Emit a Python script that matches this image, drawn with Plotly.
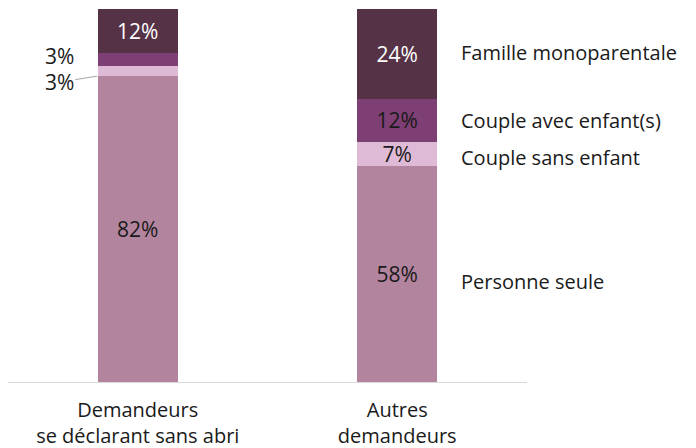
import plotly.graph_objects as go

categories = ["Demandeurs<br>se déclarant sans abri", "Autres<br>demandeurs"]
series_names = ["Personne seule", "Couple sans enfant", "Couple avec enfant(s)", "Famille monoparentale"]
values = {
    "Personne seule": [82.0, 58.0],
    "Couple sans enfant": [2.7, 6.4],
    "Couple avec enfant(s)": [3.4, 11.6],
    "Famille monoparentale": [11.9, 24.0],
}
labels = {
    "Personne seule": ["82%", "58%"],
    "Couple sans enfant": ["3%", "7%"],
    "Couple avec enfant(s)": ["3%", "12%"],
    "Famille monoparentale": ["12%", "24%"],
}
colors = {
    "Personne seule": "#b3849e",
    "Couple sans enfant": "#dfbad6",
    "Couple avec enfant(s)": "#7e3f74",
    "Famille monoparentale": "#563246",
}
text_colors = {
    "Personne seule": "#1a1a1a",
    "Couple sans enfant": "#1a1a1a",
    "Couple avec enfant(s)": "#1a1a1a",
    "Famille monoparentale": "#ffffff",
}

FONT = "Open Sans"
FS_PCT = 21
FS_SER = 20
FS_TICK = 20

fig = go.Figure()
for name in series_names:
    txt = list(labels[name])
    if name in ("Couple sans enfant", "Couple avec enfant(s)"):
        txt[0] = ""
    fig.add_trace(go.Bar(
        x=categories, y=values[name], name=name,
        marker=dict(color=colors[name], line=dict(width=0)),
        text=txt, textposition="inside", insidetextanchor="middle",
        textfont=dict(family=FONT, size=FS_PCT, color=text_colors[name]),
        width=0.31, hoverinfo="skip",
    ))

annotations = []
cum = 0.0
offsets = {"Personne seule": -2.0, "Couple sans enfant": -1.0,
           "Couple avec enfant(s)": 0.0, "Famille monoparentale": 0.3}
for name in series_names:
    v = values[name][1]
    annotations.append(dict(
        x=categories[1], y=cum + v / 2 + offsets[name], xref="x", yref="y",
        text=name, showarrow=False, xanchor="left", xshift=62,
        font=dict(family=FONT, size=FS_SER, color="#1a1a1a"),
    ))
    cum += v

base = values["Personne seule"][0]
v_sans = values["Couple sans enfant"][0]
v_avec = values["Couple avec enfant(s)"][0]
annotations.append(dict(
    x=categories[0], y=base, xref="x", yref="y", xshift=-40.5,
    text=labels["Couple sans enfant"][0], showarrow=True, arrowhead=0,
    arrowwidth=1, arrowcolor="#a6a6a6", ax=-38, ay=6,
    font=dict(family=FONT, size=FS_PCT, color="#1a1a1a"),
))
annotations.append(dict(
    x=categories[0], y=base + v_sans + v_avec / 2 + 1.0, xref="x", yref="y",
    xshift=-62, xanchor="right", showarrow=False,
    text=labels["Couple avec enfant(s)"][0],
    font=dict(family=FONT, size=FS_PCT, color="#1a1a1a"),
))

fig.update_layout(
    barmode="stack",
    width=688, height=440,
    margin=dict(l=0, r=169, t=1, b=66, autoexpand=False),
    paper_bgcolor="white", plot_bgcolor="white",
    showlegend=False,
    font=dict(family=FONT, size=FS_TICK, color="#1a1a1a"),
    annotations=annotations,
    uniformtext=dict(minsize=FS_PCT, mode="show"),
)
fig.update_xaxes(
    range=[-0.5, 1.5], showline=True, linecolor="#d9d9d9", linewidth=1,
    ticks="outside", ticklen=10, tickcolor="rgba(0,0,0,0)",
    tickfont=dict(family=FONT, size=FS_TICK, color="#1a1a1a"),
    showgrid=False, automargin=False,
)
fig.update_yaxes(range=[0, 100], visible=False, showgrid=False, automargin=False)

fig.write_html("out.html")
